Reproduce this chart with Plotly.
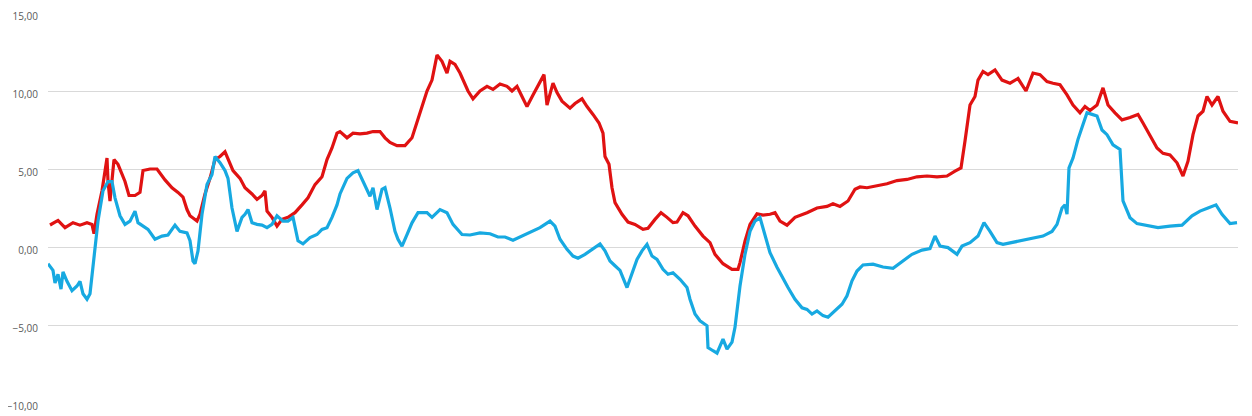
import plotly.graph_objects as go

# red series: day index and value
red_days = [2, 10, 17, 25, 32, 39, 44, 46, 49, 54, 59, 60, 62, 66, 70, 77, 81, 87, 92, 95,
            102, 109, 117, 124, 130, 135, 139, 142, 149, 152, 157, 162, 167, 172, 177, 180, 185, 192, 197, 204,
            209, 214, 217, 219, 224, 229, 234, 240, 247, 254, 260, 267, 274, 279, 284, 289, 292, 299, 305, 312,
            319, 325, 332, 337, 342, 349, 357, 364, 369, 374, 379, 384, 389, 394, 399, 402, 407, 412, 417, 420,
            425, 432, 439, 445, 452, 459, 464, 469, 474, 479, 485, 492, 496, 499, 505, 509, 514, 522, 527, 534,
            539, 545, 551, 555, 557, 561, 564, 567, 574, 580, 587, 595, 600, 607, 613, 619, 625, 629, 635, 640,
            647, 655, 662, 667, 675, 684, 690, 692, 697, 702, 709, 715, 722, 727, 732, 739, 747, 759, 769, 779,
            785, 792, 800, 807, 812, 819, 829, 839, 849, 859, 869, 879, 889, 899, 907, 913, 917, 922, 927, 930,
            935, 940, 947, 954, 962, 970, 978, 985, 992, 999, 1005, 1012, 1019, 1025, 1032, 1037, 1042, 1049, 1055, 1060,
            1067, 1074, 1082, 1090, 1095, 1102, 1109, 1115, 1122, 1129, 1135, 1140, 1145, 1150, 1155, 1159, 1164, 1170, 1175, 1182,
            1190]
red = [1.41, 1.7, 1.24, 1.56, 1.4, 1.56, 1.45, 0.85, 2.1, 3.6, 5.7, 4.2, 2.95, 5.6, 5.3, 4.2, 3.3, 3.3, 3.5, 4.9,
       5.0, 5.0, 4.3, 3.8, 3.5, 3.2, 2.4, 2.0, 1.66, 2.1, 3.4, 4.4, 5.6, 5.8, 6.1, 5.6, 4.9, 4.4, 3.8, 3.4,
       3.05, 3.3, 3.6, 2.3, 1.9, 1.34, 1.77, 1.9, 2.2, 2.7, 3.15, 4.0, 4.5, 5.6, 6.35, 7.3, 7.4, 7.0, 7.3, 7.25,
       7.3, 7.4, 7.4, 7.0, 6.7, 6.5, 6.5, 7.0, 8.05, 9.1, 10.0, 10.7, 12.3, 11.9, 11.15, 11.9, 11.7, 11.15, 10.5, 10.0,
       9.5, 10.0, 10.3, 10.1, 10.45, 10.3, 10.0, 10.3, 9.65, 9.0, 9.75, 10.6, 11.05, 9.1, 10.5, 9.9, 9.35, 8.9, 9.2, 9.5,
       9.0, 8.5, 7.95, 7.3, 5.8, 5.3, 3.8, 2.85, 2.1, 1.6, 1.45, 1.13, 1.2, 1.77, 2.2, 1.9, 1.56, 1.6, 2.2, 2.0,
       1.34, 0.7, 0.28, -0.47, -1.07, -1.43, -1.43, -1.0, 0.38, 1.45, 2.13, 2.05, 2.1, 2.2, 1.66, 1.4, 1.9, 2.2, 2.5, 2.6,
       2.77, 2.6, 2.95, 3.7, 3.85, 3.8, 3.9, 4.05, 4.26, 4.33, 4.5, 4.55, 4.5, 4.55, 4.86, 5.07, 6.8, 9.1, 9.65, 10.7,
       11.25, 11.05, 11.35, 10.7, 10.5, 10.8, 10.0, 11.15, 11.05, 10.6, 10.5, 10.4, 9.75, 9.1, 8.6, 9.0, 8.75, 9.1, 10.2, 9.1,
       8.6, 8.15, 8.3, 8.5, 7.95, 7.1, 6.35, 6.0, 5.9, 5.4, 4.55, 5.5, 7.2, 8.4, 8.7, 9.65, 9.1, 9.65, 8.7, 8.05,
       7.95]

# blue series: day index and value
blue_days = [0, 5, 7, 10, 13, 15, 19, 24, 29, 32, 35, 39, 42, 45, 47, 50, 55, 60, 64, 67,
             72, 77, 82, 87, 90, 95, 100, 107, 114, 120, 127, 132, 139, 142, 145, 147, 150, 154, 159, 164,
             167, 172, 177, 180, 184, 189, 194, 197, 200, 204, 209, 214, 219, 224, 229, 235, 240, 245, 250, 255,
             262, 269, 274, 279, 284, 289, 292, 299, 305, 310, 315, 322, 325, 329, 334, 337, 342, 347, 350, 354,
             359, 364, 370, 379, 384, 392, 399, 405, 414, 422, 432, 442, 450, 457, 465, 474, 482, 489, 492, 502,
             507, 512, 519, 525, 530, 537, 545, 552, 557, 562, 567, 572, 579, 584, 589, 594, 599, 604, 609, 615,
             620, 625, 632, 639, 642, 647, 652, 659, 660, 665, 669, 675, 679, 684, 687, 692, 697, 702, 707, 712,
             717, 722, 729, 735, 740, 747, 754, 759, 764, 769, 775, 780, 787, 794, 799, 804, 809, 815, 825, 835,
             845, 855, 864, 874, 882, 887, 892, 900, 909, 914, 922, 930, 936, 942, 949, 955, 969, 982, 995, 1004,
             1009, 1014, 1017, 1019, 1021, 1025, 1030, 1035, 1039, 1044, 1049, 1054, 1059, 1065, 1072, 1075, 1082, 1089, 1099, 1110,
             1122, 1134, 1144, 1152, 1160, 1168, 1174, 1182, 1189]
blue = [-1.07, -1.5, -2.3, -1.75, -2.7, -1.6, -2.2, -2.8, -2.5, -2.2, -3.0, -3.35, -3.0, -1.3, 0.0, 1.66, 3.6, 4.2, 4.2, 3.15,
        2.0, 1.45, 1.66, 2.3, 1.56, 1.34, 1.13, 0.5, 0.7, 0.77, 1.4, 1.0, 0.9, 0.4, -0.9, -1.07, -0.25, 2.1, 4.0, 4.65,
        5.8, 5.4, 4.9, 4.4, 2.5, 1.0, 1.9, 2.1, 2.4, 1.56, 1.45, 1.4, 1.24, 1.45, 2.0, 1.66, 1.66, 1.9, 0.4, 0.2,
        0.6, 0.8, 1.13, 1.24, 1.9, 2.7, 3.4, 4.4, 4.75, 4.9, 4.2, 3.25, 3.8, 2.4, 3.7, 3.8, 2.5, 1.0, 0.5, 0.05,
        0.8, 1.55, 2.2, 2.2, 1.9, 2.4, 2.2, 1.45, 0.8, 0.77, 0.9, 0.85, 0.64, 0.64, 0.43, 0.7, 0.96, 1.13, 1.24, 1.66,
        1.34, 0.5, -0.15, -0.58, -0.72, -0.47, -0.1, 0.2, -0.25, -0.9, -1.2, -1.5, -2.6, -1.75, -0.8, -0.25, 0.17, -0.58, -0.8, -1.43,
        -1.75, -1.65, -2.07, -2.6, -3.35, -4.3, -4.73, -5.05, -6.45, -6.65, -6.8, -5.9, -6.55, -6.1, -5.15, -2.5, -0.47, 1.0, 1.66, 1.88,
        0.8, -0.36, -1.3, -2.07, -2.6, -3.35, -3.9, -4.0, -4.3, -4.1, -4.4, -4.5, -4.1, -3.67, -3.13, -2.17, -1.54, -1.15, -1.1, -1.28,
        -1.36, -0.9, -0.47, -0.2, -0.1, 0.7, 0.06, -0.04, -0.47, 0.06, 0.28, 0.7, 1.56, 1.0, 0.28, 0.17, 0.34, 0.5, 0.7, 1.0,
        1.45, 2.5, 2.7, 2.1, 5.07, 5.7, 6.9, 7.85, 8.6, 8.5, 8.4, 7.5, 7.2, 6.55, 6.25, 2.95, 1.88, 1.5, 1.4, 1.24,
        1.34, 1.4, 2.0, 2.3, 2.5, 2.7, 2.1, 1.5, 1.56]

y_ticks = [-10, -5, 0, 5, 10, 15]

fig = go.Figure()
fig.add_trace(go.Scatter(x=red_days, y=red, mode='lines',
                         line=dict(color='#e01212', width=3.2)))
fig.add_trace(go.Scatter(x=blue_days, y=blue, mode='lines',
                         line=dict(color='#17a9e1', width=3.2)))

# the page body adds an 8px offset, so the figure is sized to end at the window edge
fig.update_layout(
    width=1244, height=408,
    margin=dict(l=40, r=14, t=5, b=13),
    paper_bgcolor='white', plot_bgcolor='white',
    showlegend=False,
    separators=', ',
    font=dict(family='Open Sans', size=10, color='#595959'),
)
fig.update_xaxes(range=[0, 1190], visible=False, showgrid=False, automargin=False)
fig.update_yaxes(range=[-10, 15], tickvals=y_ticks, tickformat='.2f',
                 showgrid=True, gridcolor='#d9d9d9', gridwidth=1,
                 zeroline=False, showline=False, ticks='',
                 ticklabelstandoff=9, ticklabelshift=3, ticklabeloverflow='allow',
                 automargin=False)

fig.write_html("out.html")
